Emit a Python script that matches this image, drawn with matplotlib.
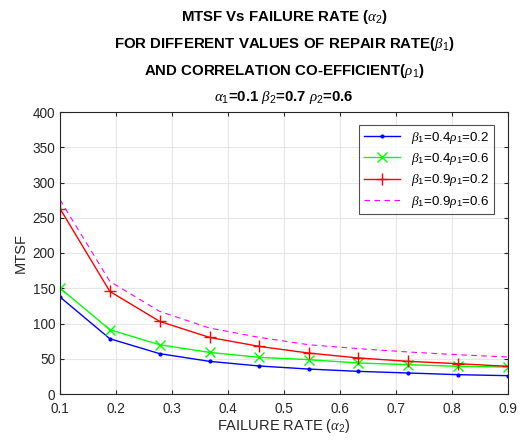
import numpy as np
import matplotlib
matplotlib.use('Agg')
import matplotlib.pyplot as plt

plt.rcParams['font.family'] = ['Liberation Sans', 'DejaVu Sans']
plt.rcParams['mathtext.fontset'] = 'custom'
plt.rcParams['mathtext.rm'] = 'Liberation Sans'
plt.rcParams['mathtext.it'] = 'Liberation Serif:italic'
plt.rcParams['mathtext.bf'] = 'Liberation Sans:bold'

# failure rate alpha2
alpha2 = [0.1, 0.189, 0.278, 0.367, 0.456, 0.544, 0.633, 0.722, 0.811, 0.9]

# MTSF values
mtsf_b04_r02 = [137.6, 78.4, 57.2, 46.3, 39.7, 35.4, 32.1, 29.8, 27.4, 26.0]
mtsf_b04_r06 = [150.3, 91.2, 69.9, 59.0, 52.0, 48.7, 44.0, 41.6, 39.2, 38.3]
mtsf_b09_r02 = [263.0, 145.5, 103.0, 80.3, 67.5, 58.1, 51.1, 46.3, 43.0, 39.2]
mtsf_b09_r06 = [275.6, 159.7, 117.2, 93.6, 80.3, 69.9, 64.3, 59.6, 55.7, 52.5]

labels = [r'$\beta_1$=0.4$\rho_1$=0.2',
          r'$\beta_1$=0.4$\rho_1$=0.6',
          r'$\beta_1$=0.9$\rho_1$=0.2',
          r'$\beta_1$=0.9$\rho_1$=0.6']

xticks = [0.1, 0.2, 0.3, 0.4, 0.5, 0.6, 0.7, 0.8, 0.9]
yticks = [0, 50, 100, 150, 200, 250, 300, 350, 400]

fig = plt.figure(figsize=(5.2, 4.45), dpi=100)
ax = fig.add_axes([60/520, 1-394/445, 448/520, 282/445])

ax.plot(alpha2, mtsf_b04_r02, color='#0000ff', marker='.', markersize=4, lw=1, label=labels[0])
ax.plot(alpha2, mtsf_b04_r06, color='#00ff00', marker='x', markersize=7, lw=1, label=labels[1])
ax.plot(alpha2, mtsf_b09_r02, color='#ff0000', marker='+', markersize=9, lw=1, label=labels[2])
ax.plot(alpha2, mtsf_b09_r06, color='#ff00ff', ls='--', dashes=(5, 4), lw=0.8, label=labels[3])

ax.set_xlim(0.1, 0.9)
ax.set_ylim(0, 400)
ax.set_xticks(xticks)
ax.set_xticklabels([str(t) for t in xticks])
ax.set_yticks(yticks)
ax.grid(True, color='#e6e6e6', lw=0.8)
ax.set_axisbelow(True)
ax.tick_params(direction='in', top=True, right=True, labelsize=9.8, length=3,
               colors='#262626')
ax.tick_params(axis='x', pad=5.5)
for s in ax.spines.values():
    s.set_color('#262626')
    s.set_linewidth(0.8)

ax.set_xlabel(r'FAILURE RATE ($\alpha_2$)', fontsize=10.5, color='#262626', labelpad=1)
ax.set_ylabel('MTSF', fontsize=10.5, color='#262626', labelpad=3)

leg = ax.legend(loc='upper right', fontsize=9.6, frameon=True, fancybox=False,
                handlelength=2.7, borderpad=0.35, labelspacing=0.4,
                borderaxespad=0, bbox_to_anchor=(434/448, 269/282))
leg.get_frame().set_edgecolor('#262626')
leg.get_frame().set_linewidth(0.8)

title_lines = [r'MTSF Vs FAILURE RATE ($\alpha_2$)',
               r'FOR DIFFERENT VALUES OF REPAIR RATE($\beta_1$)',
               r'AND CORRELATION CO-EFFICIENT($\rho_1$)',
               r'$\alpha_1$=0.1 $\beta_2$=0.7 $\rho_2$=0.6']
title_y = [17, 44, 71, 97]
for txt, yp in zip(title_lines, title_y):
    fig.text(284/520, 1 - yp/445, txt, ha='center', va='center',
             fontsize=10.8, fontweight='bold', color='black')

fig.savefig('out.png', dpi=100)
